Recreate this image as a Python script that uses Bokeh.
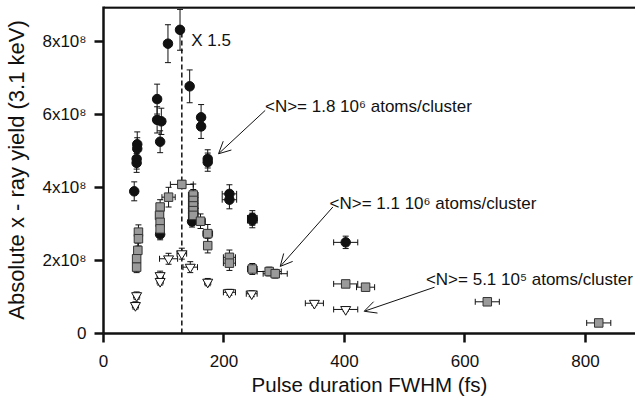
from bokeh.plotting import figure
from bokeh.models import (ColumnDataSource, Whisker, TeeHead, Arrow, OpenHead, Label,
                          Range1d, Span)
from bokeh.embed import file_html
from bokeh.resources import INLINE

# ---- data: x = pulse duration FWHM (fs), y = yield in units of 1e8 ----
# <N> = 1.8e6 atoms/cluster (black circles)
c_x    = [127, 107, 143, 89, 89, 96, 94, 162, 162, 173, 173, 56, 56, 55, 55, 51, 209, 209, 247, 247, 94, 147, 402]
c_y    = [8.33, 7.95, 6.78, 6.43, 5.86, 5.82, 5.26, 5.93, 5.68, 4.79, 4.70, 5.19, 5.07, 4.79, 4.68, 3.90, 3.83, 3.67, 3.17, 3.10, 2.72, 3.07, 2.50]
c_xerr = [6, 6, 6, 6, 6, 6, 5, 6, 6, 5, 5, 5, 5, 5, 5, 4, 12, 12, 8, 8, 4, 5, 20]
c_yerr = [0.56, 0.52, 0.45, 0.41, 0.36, 0.36, 0.30, 0.35, 0.33, 0.25, 0.25, 0.34, 0.30, 0.28, 0.26, 0.26, 0.25, 0.25, 0.20, 0.20, 0.15, 0.15, 0.17]

# <N> = 1.1e6 atoms/cluster (grey squares)
s_x    = [130, 108, 149, 149, 149, 149, 149, 161, 173, 173, 94, 93, 94, 94, 58, 58, 57, 55, 55, 209, 209, 247, 275, 285, 402, 435, 637, 822]
s_y    = [4.09, 3.74, 3.80, 3.65, 3.50, 3.37, 3.24, 3.08, 2.74, 2.41, 3.47, 3.24, 3.05, 2.87, 2.78, 2.60, 2.28, 2.05, 1.82, 2.09, 1.93, 1.77, 1.70, 1.64, 1.36, 1.27, 0.87, 0.29]
s_xerr = [19, 11, 8, 8, 8, 8, 8, 8, 8, 6, 6, 6, 6, 6, 5, 5, 5, 5, 5, 10, 10, 8, 20, 20, 20, 15, 20, 20]
s_yerr = [0.10, 0.27, 0.30, 0.30, 0.30, 0.28, 0.25, 0.20, 0.25, 0.20, 0.20, 0.20, 0.20, 0.20, 0.20, 0.20, 0.20, 0.20, 0.15, 0.20, 0.20, 0.15, 0.12, 0.12, 0.08, 0.08, 0.06, 0.04]

# <N> = 5.1e5 atoms/cluster (white inverted triangles)
t_x    = [130, 108, 144, 94, 94, 173, 55, 53, 209, 246, 350, 402]
t_y    = [2.19, 2.05, 1.82, 1.59, 1.43, 1.41, 1.04, 0.77, 1.13, 1.09, 0.83, 0.66]
t_xerr = [8, 15, 12, 5, 5, 5, 5, 5, 10, 9, 15, 20]
t_yerr = [0.15, 0.15, 0.15, 0.12, 0.10, 0.10, 0.10, 0.10, 0.08, 0.08, 0.06, 0.05]

y_ticks = [0, 2, 4, 6, 8]
y_tick_labels = ["0", "2x10\u2078", "4x10\u2078", "6x10\u2078", "8x10\u2078"]

dash_x = 130          # dashed vertical line position (fs)
dash_top = 8.3

FONT = "Liberation Sans"
INK = "#111111"
XMAX = 883
YMAX = 8.97

p = figure(width=635, height=399, output_backend="svg", toolbar_location=None,
           x_range=Range1d(0, XMAX), y_range=Range1d(0, YMAX),
           min_border_left=103, min_border_right=0, min_border_top=6, min_border_bottom=66)
p.outline_line_color = None
p.xgrid.visible = False
p.ygrid.visible = False

# default adaptive tickers give ticks every 200 fs and every 2 (x1e8)
p.xaxis.ticker.desired_num_ticks = 5
p.yaxis.ticker.desired_num_ticks = 5

for ax in (p.xaxis[0], p.yaxis[0]):
    ax.axis_line_width = 2.5
    ax.axis_line_color = INK
    ax.major_tick_line_width = 2.5
    ax.major_tick_line_color = INK
    ax.major_tick_in = 0
    ax.major_tick_out = 9
    ax.minor_tick_in = 0
    ax.minor_tick_out = 0
    ax.major_label_text_font = FONT
    ax.major_label_text_font_size = "17px"
    ax.major_label_text_color = INK
    ax.axis_label_text_font = FONT
    ax.axis_label_text_font_style = "normal"
    ax.axis_label_text_color = INK

p.yaxis.major_label_overrides = {t: l for t, l in zip(y_ticks, y_tick_labels)}
p.xaxis.axis_label = "Pulse duration FWHM (fs)"
p.yaxis.axis_label = "Absolute x - ray yield (3.1 keV)"
p.xaxis.axis_label_text_font_size = "20.5px"
p.yaxis.axis_label_text_font_size = "22px"
p.xaxis.major_label_standoff = 12
p.yaxis.major_label_standoff = 8
p.xaxis.axis_label_standoff = 3
p.yaxis.axis_label_standoff = 10

# top spine of the box
p.add_layout(Span(location=YMAX - 0.03, dimension="width", line_color=INK, line_width=2.5))

# dashed vertical line
p.line(x=[dash_x, dash_x], y=[0, dash_top], line_color=INK, line_width=1.5, line_dash="5 3")


def add_series(xs, ys, xe, ye, marker, size, fill, line):
    src = ColumnDataSource(dict(
        x=xs, y=ys,
        xl=[a - e for a, e in zip(xs, xe)], xu=[a + e for a, e in zip(xs, xe)],
        yl=[a - e for a, e in zip(ys, ye)], yu=[a + e for a, e in zip(ys, ye)]))
    p.add_layout(Whisker(source=src, base="x", lower="yl", upper="yu", dimension="height",
                         line_color=INK, line_width=1,
                         lower_head=TeeHead(size=6, line_color=INK, line_width=1),
                         upper_head=TeeHead(size=6, line_color=INK, line_width=1)))
    p.add_layout(Whisker(source=src, base="y", lower="xl", upper="xu", dimension="width",
                         line_color=INK, line_width=1,
                         lower_head=TeeHead(size=6, line_color=INK, line_width=1),
                         upper_head=TeeHead(size=6, line_color=INK, line_width=1)))
    p.scatter("x", "y", source=src, marker=marker, size=size, fill_color=fill,
              line_color=line, line_width=1)


add_series(c_x, c_y, c_xerr, c_yerr, "circle", 9.5, "#111111", "#111111")
add_series(s_x, s_y, s_xerr, s_yerr, "square", 8.5, "#9a9a9a", "#333333")
add_series(t_x, t_y, t_xerr, t_yerr, "inverted_triangle", 10, "white", INK)

# annotations
def label(x, y, text):
    p.add_layout(Label(x=x, y=y, text=text, text_font=FONT, text_font_size="17px",
                       text_color=INK, text_baseline="alphabetic", text_align="left"))

label(145.6, 8.04, "X 1.5")
label(268.0, 6.23, "<N>= 1.8 10\u2076 atoms/cluster")
label(375.1, 3.56, "<N>= 1.1 10\u2076 atoms/cluster")
label(535.1, 1.47, "<N>= 5.1 10\u2075 atoms/cluster")

for xs, ys, xe, ye in [(268.4, 6.12, 190.9, 4.93), (380.7, 3.47, 293.3, 1.84), (549.4, 1.27, 432.7, 0.61)]:
    p.add_layout(Arrow(x_start=xs, y_start=ys, x_end=xe, y_end=ye, line_color=INK, line_width=1,
                       end=OpenHead(size=12, line_color=INK, line_width=1)))

open("out.html", "w").write(file_html(p, INLINE))
